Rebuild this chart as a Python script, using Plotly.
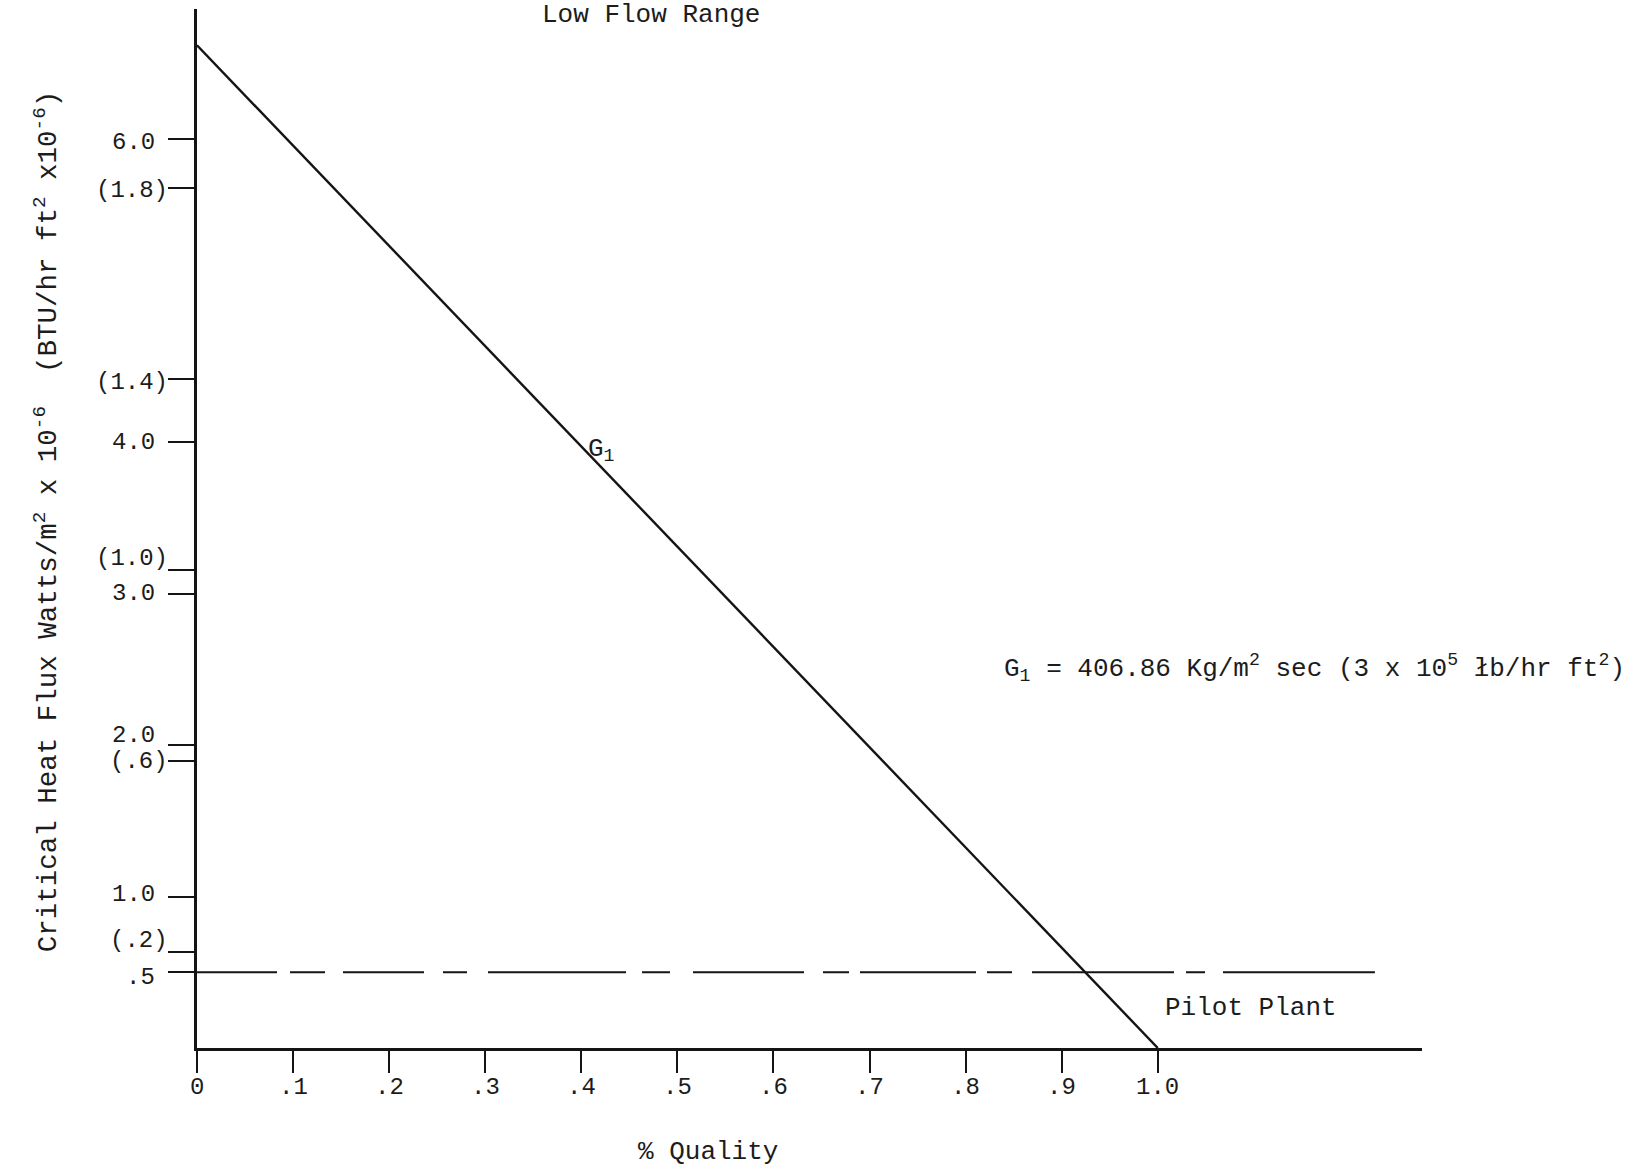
import plotly.graph_objects as go

# Critical heat flux vs. quality, low flow range
quality = [0.0, 1.0]
flux_w = [6.62, 0.0]            # W/m^2 x 10^-6

pilot_quality = [0.0, 1.226]
pilot_flux = [0.5, 0.5]

x_ticks = [0, 0.1, 0.2, 0.3, 0.4, 0.5, 0.6, 0.7, 0.8, 0.9, 1.0]
x_tick_text = ["0", ".1", ".2", ".3", ".4", ".5", ".6", ".7", ".8", ".9", "1.0"]

si_ticks = [6.0, 4.0, 3.0, 2.0, 1.0, 0.5]
si_tick_text = ["6.0", "4.0", "3.0", "2.0", "1.0", ".5"]

btu_ticks = [1.8, 1.4, 1.0, 0.6, 0.2]   # BTU/hr ft^2 x 10^-6
btu_tick_text = ["(1.8)", "(1.4)", "(1.0)", "(.6)", "(.2)"]
BTU_TO_W = 3.1546

# vertical nudges (px) so crowded labels sit clear of each other
si_label_nudge = [-3, 0, 0, 10, 2, -5]
btu_label_nudge = [-3, -3, 12, 0, 12]

FONT = "Liberation Mono, Courier New, monospace"
INK = "#141414"
TXT = "#1c1c1c"

fig = go.Figure()
fig.add_trace(go.Scatter(x=quality, y=flux_w, mode="lines",
                         line=dict(color=INK, width=2.4), hoverinfo="skip"))
# hand-ruled long/short dashed level line
fig.add_trace(go.Scatter(
    x=pilot_quality, y=pilot_flux, mode="lines", hoverinfo="skip",
    line=dict(color=INK, width=1.8,
              dash="80px,13px,35px,18px,81px,19px,24px,21px,138px,16px,28px,23px,"
                   "111px,19px,26px,11px,116px,11px,25px,20px,142px,12px,19px,18px,152px")))

fig.update_layout(
    width=1642, height=1170,
    margin=dict(l=197, r=220, t=9, b=122),
    paper_bgcolor="white", plot_bgcolor="white",
    showlegend=False,
    font=dict(family=FONT, size=24, color=TXT),
)
fig.update_xaxes(range=[0, 1.275], showgrid=False, zeroline=False,
                 showline=True, linecolor=INK, linewidth=2.5,
                 ticks="outside", ticklen=22, tickwidth=2, tickcolor=INK,
                 tickvals=x_ticks, showticklabels=False)
fig.update_yaxes(range=[0, 6.86], showgrid=False, zeroline=False,
                 showline=True, linecolor=INK, linewidth=2.5,
                 ticks="outside", ticklen=26, tickwidth=2, tickcolor=INK,
                 tickvals=si_ticks + [b * BTU_TO_W for b in btu_ticks],
                 showticklabels=False)

tick_font = dict(family=FONT, size=24, color=TXT)

# x tick labels
for v, t in zip(x_ticks, x_tick_text):
    fig.add_annotation(x=v, y=0, xref="x", yref="y", text=t, showarrow=False,
                       xanchor="center", yanchor="middle", yshift=-39, font=tick_font)

# y tick labels: SI values and bracketed BTU values
for v, t, dy in zip(si_ticks, si_tick_text, si_label_nudge):
    fig.add_annotation(x=0, y=v, xref="paper", yref="y", text=t, showarrow=False,
                       xanchor="right", yanchor="middle", xshift=-40, yshift=dy,
                       font=tick_font)
for v, t, dy in zip(btu_ticks, btu_tick_text, btu_label_nudge):
    fig.add_annotation(x=0, y=v * BTU_TO_W, xref="paper", yref="y", text=t,
                       showarrow=False, xanchor="right", yanchor="middle",
                       xshift=-27, yshift=dy, font=tick_font)

ann = dict(showarrow=False, font=dict(family=FONT, size=26, color=TXT))
fig.add_annotation(x=0.4725, y=6.82, xref="x", yref="y", text="Low Flow Range",
                   xanchor="center", yanchor="middle", **ann)
fig.add_annotation(x=0.405, y=3.95, xref="x", yref="y", text="G<sub>1</sub>",
                   xanchor="left", yanchor="middle", **ann)
fig.add_annotation(x=0.838, y=2.51, xref="x", yref="y",
                   text="G<sub>1</sub> = 406.86 Kg/m<sup>2</sup> sec (3 x 10<sup>5</sup> łb/hr ft<sup>2</sup>)",
                   xanchor="left", yanchor="middle", **ann)
fig.add_annotation(x=1.097, y=0.267, xref="x", yref="y", text="Pilot Plant",
                   xanchor="center", yanchor="middle", **ann)
fig.add_annotation(x=0.532, y=-0.1, xref="x", yref="paper", text="% Quality",
                   xanchor="center", yanchor="middle", **ann)
fig.add_annotation(x=-0.1224, y=0.507, xref="paper", yref="paper", textangle=-90,
                   text="Critical Heat Flux Watts/m<sup>2</sup> x 10<sup>-6</sup>  (BTU/hr ft<sup>2</sup> x10<sup>-6</sup>)",
                   xanchor="center", yanchor="middle", showarrow=False,
                   font=dict(family=FONT, size=27.5, color=TXT))

fig.write_html("out.html")
